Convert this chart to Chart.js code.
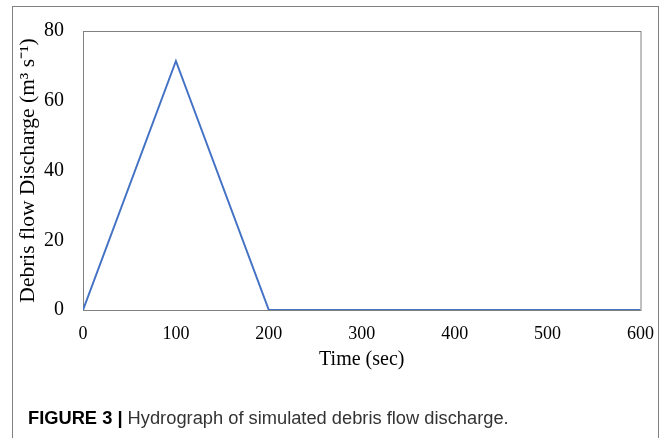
<!DOCTYPE html>
<html>
<head>
<meta charset="utf-8">
<script src="https://cdn.jsdelivr.net/npm/chart.js@4/dist/chart.umd.min.js"></script>
<style>
  html, body { margin: 0; padding: 0; background: #fff; }
  body { width: 667px; height: 438px; position: relative; overflow: hidden; }
  #frame {
    position: absolute; left: 12px; top: 6px; width: 647px; height: 450px;
    border: 1px solid #808080; box-sizing: border-box;
  }
  #wrap { position: absolute; left: 0; top: 0; width: 667px; height: 438px; }
  #caption {
    position: absolute; left: 28px; top: 407px;
    font-family: "Liberation Sans", Arial, sans-serif; font-size: 18.3px; color: #333;
    white-space: nowrap;
  }
  #caption b { color: #000; }
</style>
</head>
<body>
<div id="frame"></div>
<div id="wrap"><canvas id="c"></canvas></div>
<div id="caption"><b>FIGURE 3</b> <b>|</b> Hydrograph of simulated debris flow discharge.</div>
<script>
// hydrograph values
const timeSec = [0, 100, 200, 600];
const discharge = [0, 71.4, 0, 0];
const xTicks = [0, 100, 200, 300, 400, 500, 600];
const yTicks = [0, 20, 40, 60, 80];

const serif = "'Liberation Serif', 'Times New Roman', serif";

// plot box drawn round the chart area
const boxPlugin = {
  id: "box",
  beforeDatasetsDraw(chart) {
    const a = chart.chartArea;
    const ctx = chart.ctx;
    ctx.save();
    ctx.strokeStyle = "#808080";
    ctx.lineWidth = 1;
    ctx.strokeRect(a.left + 0.5, a.top + 0.5, a.right - a.left, a.bottom - a.top);
    ctx.restore();
  },
};

new Chart(document.getElementById("c"), {
  type: "scatter",
  data: {
    datasets: [
      {
        data: timeSec.map((t, i) => ({ x: t, y: discharge[i] })),
        showLine: true,
        borderColor: "#4472c4",
        borderWidth: 2,
        pointRadius: 0,
        tension: 0,
      },
    ],
  },
  options: {
    responsive: true,
    maintainAspectRatio: false,
    animation: false,
    layout: { padding: { left: 0, top: 30, right: 25, bottom: 63 } },
    plugins: { legend: { display: false }, tooltip: { enabled: false } },
    scales: {
      x: {
        type: "linear",
        min: 0,
        max: 600,
        afterFit: (s) => { s.height = 65; },
        afterBuildTicks: (s) => { s.ticks = xTicks.map((v) => ({ value: v })); },
        grid: { display: false, drawTicks: false },
        border: { display: false },
        ticks: { color: "#000", padding: 13, font: { family: serif, size: 18 } },
        title: {
          display: true,
          text: "Time (sec)",
          color: "#000",
          padding: { top: 0, bottom: 3 },
          font: { family: serif, size: 20 },
        },
      },
      y: {
        min: 0,
        max: 80,
        afterFit: (s) => { s.width = 83; },
        afterBuildTicks: (s) => { s.ticks = yTicks.map((v) => ({ value: v })); },
        grid: { display: false, drawTicks: false },
        border: { display: false },
        ticks: { color: "#000", padding: 19, font: { family: serif, size: 20 } },
        title: {
          display: true,
          text: "Debris flow Discharge (m³ s⁻¹)",
          color: "#000",
          padding: { top: 15, bottom: 0 },
          font: { family: serif, size: 21.5 },
        },
      },
    },
  },
  plugins: [boxPlugin],
});
</script>
</body>
</html>
